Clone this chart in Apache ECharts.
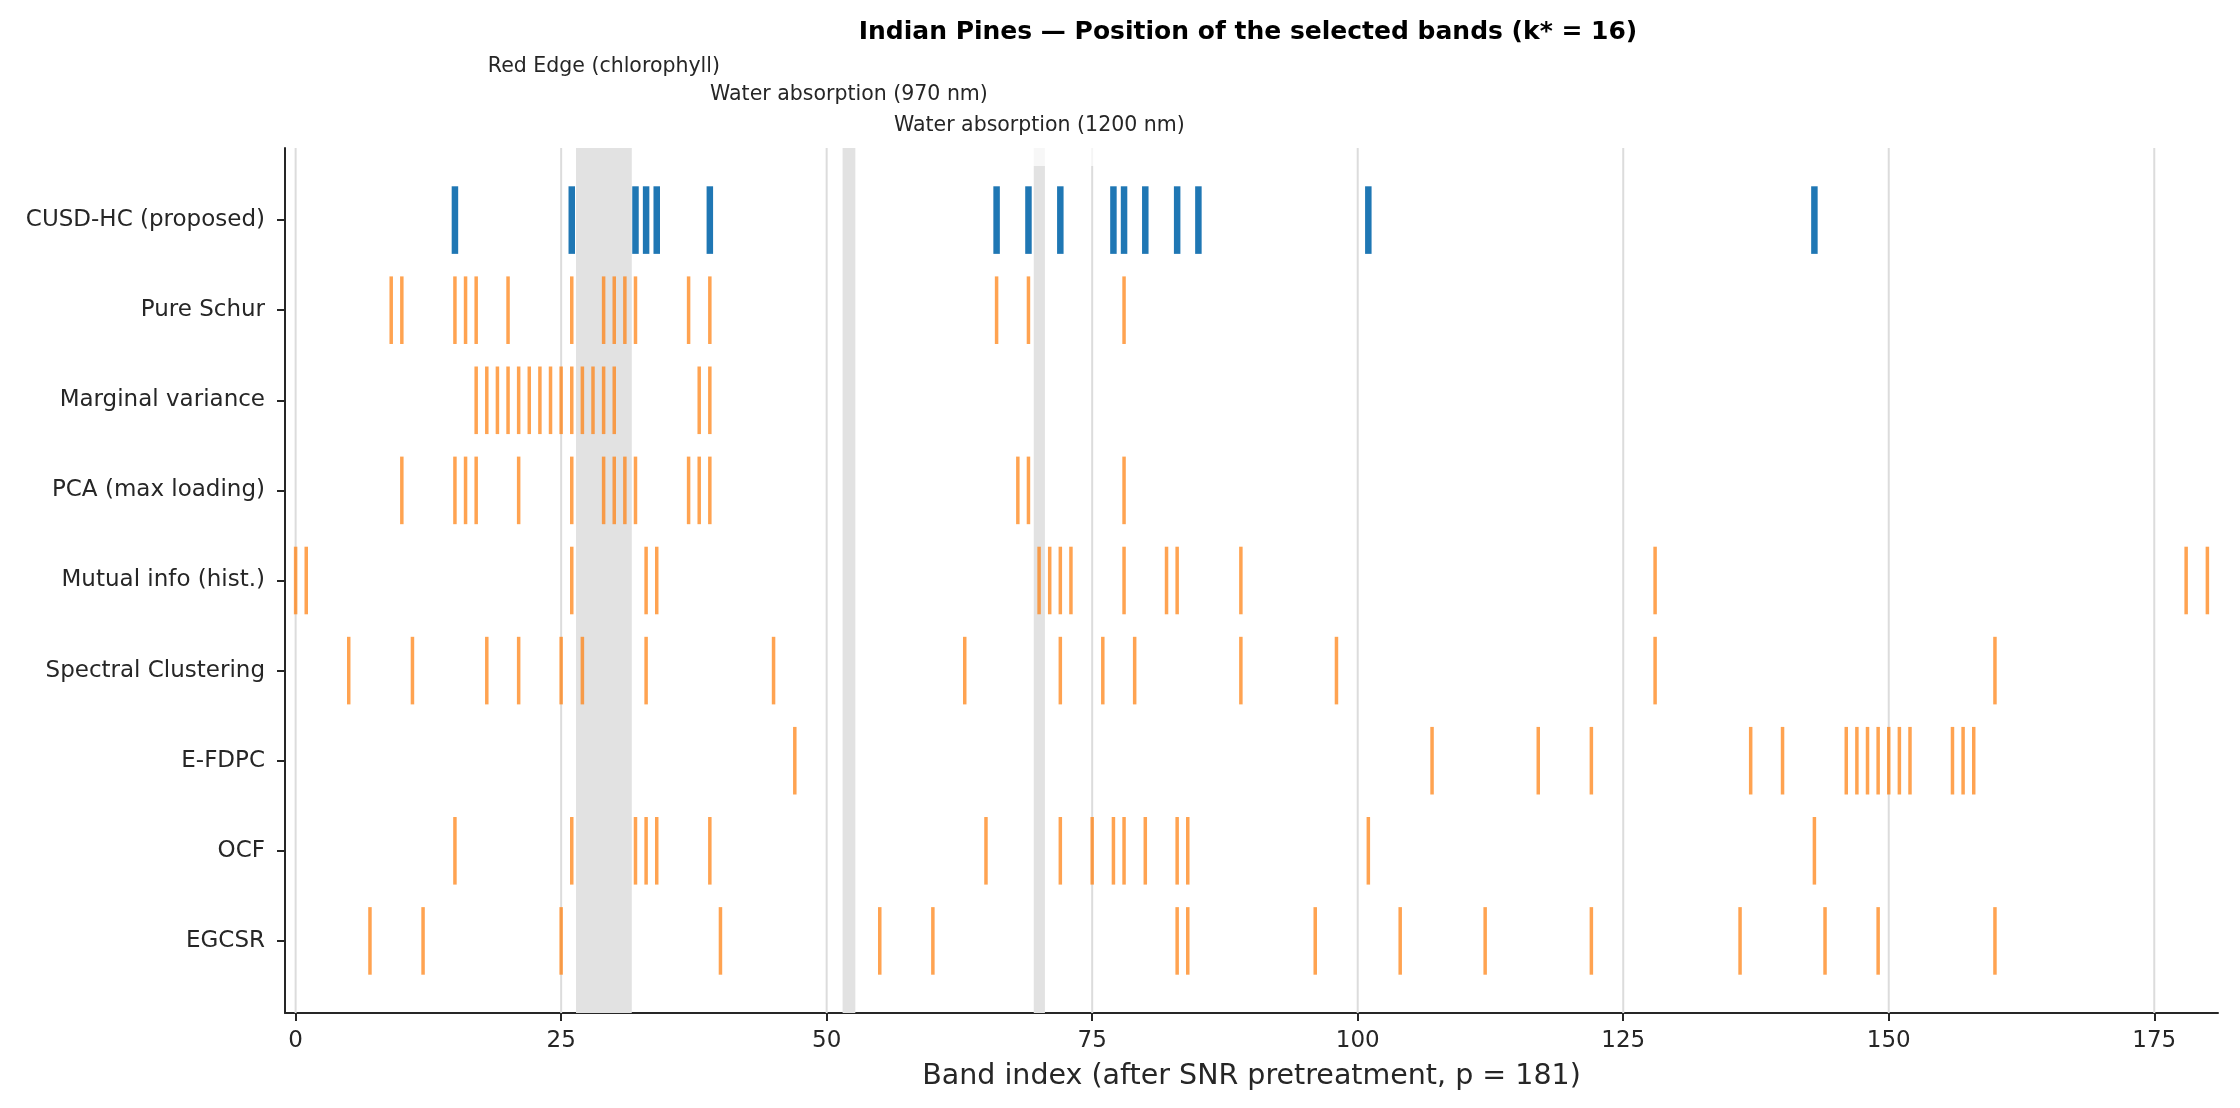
<!DOCTYPE html>
<html>
<head>
<meta charset="utf-8">
<title>Indian Pines - selected bands</title>
<script src="https://cdn.jsdelivr.net/npm/echarts@6/dist/echarts.min.js"></script>
<style>
  html, body { margin: 0; padding: 0; background: #fff; }
  #chart { width: 2240px; height: 1108px; }
</style>
</head>
<body>
<div id="chart"></div>
<script>
// methods, top to bottom
const methods = ['CUSD-HC (proposed)', 'Pure Schur', 'Marginal variance', 'PCA (max loading)',
  'Mutual info (hist.)', 'Spectral Clustering', 'E-FDPC', 'OCF', 'EGCSR'];

// selected band indices per method (k* = 16)
const cusdHc = [15, 26, 32, 33, 34, 39, 66, 69, 72, 77, 78, 80, 83, 85, 101, 143];
const pureSchur = [9, 10, 15, 16, 17, 20, 26, 29, 30, 31, 32, 37, 39, 66, 69, 78];
const marginalVariance = [17, 18, 19, 20, 21, 22, 23, 24, 25, 26, 27, 28, 29, 30, 38, 39];
const pcaMaxLoading = [10, 15, 16, 17, 21, 26, 29, 30, 31, 32, 37, 38, 39, 68, 69, 78];
const mutualInfo = [0, 1, 26, 33, 34, 70, 71, 72, 73, 78, 82, 83, 89, 128, 178, 180];
const spectralClustering = [5, 11, 18, 21, 25, 27, 33, 45, 63, 72, 76, 79, 89, 98, 128, 160];
const efdpc = [47, 107, 117, 122, 137, 140, 146, 147, 148, 149, 150, 151, 152, 156, 157, 158];
const ocf = [15, 26, 32, 33, 34, 39, 65, 72, 75, 77, 78, 80, 83, 84, 101, 143];
const egcsr = [7, 12, 25, 40, 55, 60, 83, 84, 96, 104, 112, 122, 136, 144, 149, 160];

const bandSets = [cusdHc, pureSchur, marginalVariance, pcaMaxLoading, mutualInfo,
  spectralClustering, efdpc, ocf, egcsr];

const xTicks = [0, 25, 50, 75, 100, 125, 150, 175];
const rowTicks = [0, 1, 2, 3, 4, 5, 6, 7, 8];

// spectral regions (band index)
const regionNames = ['Red Edge (chlorophyll)', 'Water absorption (970 nm)', 'Water absorption (1200 nm)'];
const regionStart = [26.4, 51.5, 69.5];
const regionEnd = [31.65, 52.7, 70.55];

// how far each region label sits above the plot (px)
const labelLift = [81, 53, 22];

const FONT = '"DejaVu Sans", sans-serif';
const INK = '#262626';

const chart = echarts.init(document.getElementById('chart'));

const tickData = [];
bandSets.forEach((bands, row) => bands.forEach(b => tickData.push([b, row])));

const regionData = regionNames.map((n, i) => [regionStart[i], regionEnd[i], i]);

chart.setOption({
  animation: false,
  backgroundColor: '#fff',
  textStyle: { fontFamily: FONT },
  graphic: [{
    type: 'text',
    x: 1248, y: 32,
    style: {
      text: 'Indian Pines — Position of the selected bands (k* = 16)',
      font: 'bold 25px ' + FONT,
      fill: '#000',
      textAlign: 'center',
      textVerticalAlign: 'middle'
    }
  }],
  grid: { left: 285, right: 22, top: 148, bottom: 95 },
  xAxis: {
    type: 'value',
    min: -1,
    max: 181,
    name: 'Band index (after SNR pretreatment, p = 181)',
    nameLocation: 'middle',
    nameGap: 49,
    nameTextStyle: { fontSize: 28.5, color: INK, fontFamily: FONT },
    axisLine: { show: true, onZero: false, lineStyle: { color: INK, width: 2 } },
    axisTick: { show: true, customValues: xTicks, length: 8, lineStyle: { color: INK, width: 2 } },
    axisLabel: { customValues: xTicks, fontSize: 23, color: INK, margin: 17, fontFamily: FONT },
    splitLine: { show: false }
  },
  yAxis: {
    type: 'value',
    inverse: true,
    min: -0.8,
    max: 8.8,
    axisLine: { show: true, onZero: false, lineStyle: { color: INK, width: 2 } },
    axisTick: { show: true, customValues: rowTicks, length: 8, lineStyle: { color: INK, width: 2 } },
    axisLabel: {
      customValues: rowTicks,
      formatter: v => methods[Math.round(v)] || '',
      fontSize: 23, color: INK, margin: 20, fontFamily: FONT
    },
    splitLine: { show: false }
  },
  series: [
    {
      // vertical grid lines
      type: 'custom',
      z: 1,
      silent: true,
      data: xTicks.map(v => [v]),
      renderItem: (params, api) => {
        const cs = params.coordSys;
        const x = api.coord([api.value(0), 0])[0];
        return {
          type: 'line',
          shape: { x1: x, y1: cs.y, x2: x, y2: cs.y + cs.height },
          style: { stroke: '#dcdcdc', lineWidth: 2 }
        };
      }
    },
    {
      // shaded spectral regions + labels
      type: 'custom',
      z: 2,
      silent: true,
      data: regionData,
      renderItem: (params, api) => {
        const cs = params.coordSys;
        const i = api.value(2);
        const x0 = api.coord([api.value(0), 0])[0];
        const x1 = api.coord([api.value(1), 0])[0];
        const cx = (x0 + x1) / 2;
        const ty = cs.y - labelLift[i];
        const children = [{
          type: 'rect',
          shape: { x: x0, y: cs.y, width: x1 - x0, height: cs.height },
          style: { fill: '#e2e2e2' }
        }];
        if (i === 2) {
          // the last label's box hangs over the top of the plot
          children.push({
            type: 'rect',
            z2: 5,
            shape: { x: cx - 150, y: ty - 16, width: 300, height: cs.y + 18 - (ty - 16) },
            style: { fill: 'rgba(255,255,255,0.72)' }
          });
        }
        children.push({
          type: 'text',
          z2: 10,
          style: {
            text: regionNames[i],
            x: cx,
            y: ty,
            textAlign: 'center',
            textVerticalAlign: 'middle',
            font: '20.5px ' + FONT,
            fill: INK
          }
        });
        return { type: 'group', children: children };
      }
    },
    {
      // band ticks
      type: 'custom',
      z: 3,
      silent: true,
      data: tickData,
      renderItem: (params, api) => {
        const x = api.value(0);
        const row = api.value(1);
        const p0 = api.coord([x, row - 0.375]);
        const p1 = api.coord([x, row + 0.375]);
        const main = row === 0;
        return {
          type: 'line',
          shape: { x1: p0[0], y1: p0[1], x2: p1[0], y2: p1[1] },
          style: {
            stroke: main ? '#1f77b4' : 'rgba(255,127,14,0.72)',
            lineWidth: main ? 6.5 : 3.5
          }
        };
      }
    }
  ]
});
</script>
</body>
</html>
